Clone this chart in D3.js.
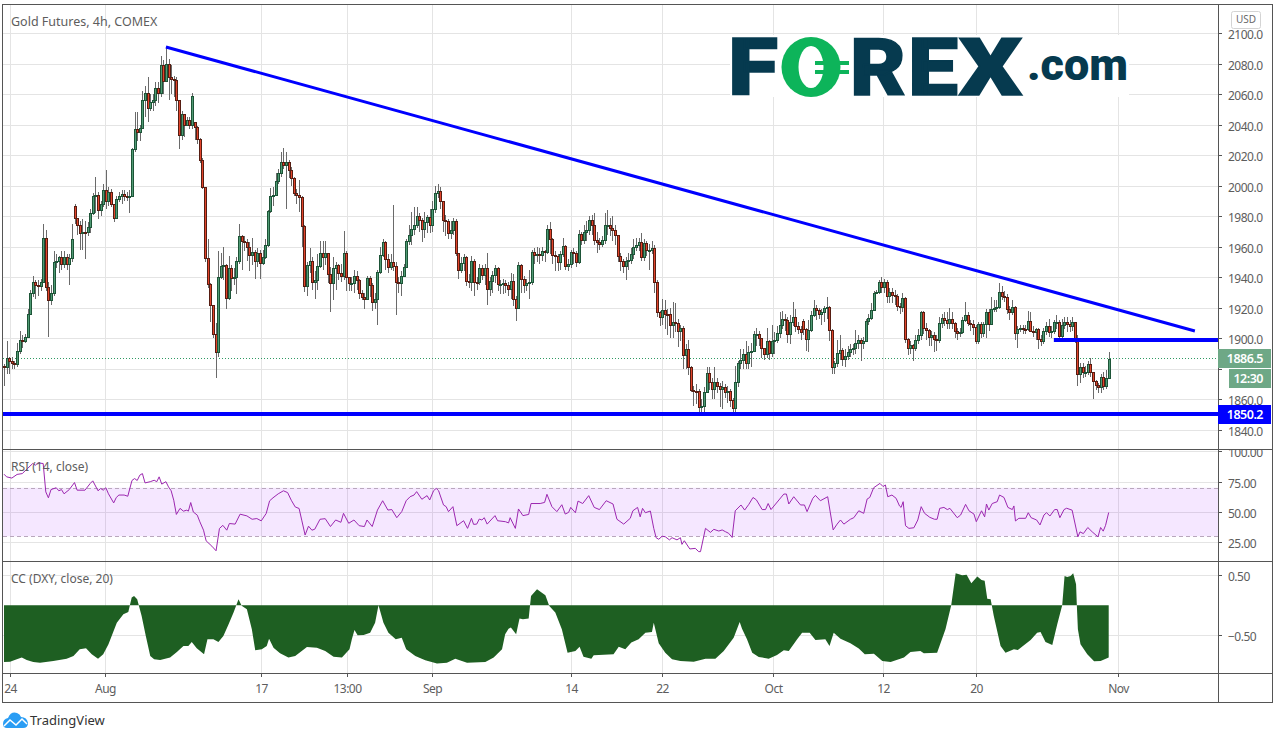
<!DOCTYPE html>
<html lang="en">
<head>
<meta charset="UTF-8">
<title>Gold Futures, 4h, COMEX</title>
<style>
  body { margin: 0; background: #fff; }
  svg { display: block; }
  text { font-family: "Noto Sans", sans-serif; }
  .axis text { font-size: 12px; fill: #5d5d5d; letter-spacing: -0.5px; }
  .axis line { stroke: #555; }
  .axis path { display: none; }
  .grid line { stroke: #e4e4e4; }
  .grid path { display: none; }
  .grid text { display: none; }
  .pane-title { font-size: 12px; fill: #5d5d5d; }
</style>
</head>
<body>
<svg width="1279" height="739"></svg>
<script src="https://d3js.org/d3.v7.min.js"></script>
<script>
// 4h candles. open is the previous close unless listed in gapAt
const closes = [
  1881,1887,1885,1884,1883,1892,1899,1898,1901,1916,
  1929.5,1937,1935,1934.5,1937,1965.7,1933.5,1925,1930,1950,
  1951,1953.5,1949,1953,1949,1952.5,1965,1979,1974,1969,
  1970,1969.5,1973,1982,1993,1994,1984,1988,1997.5,1990,
  1996,1988,1979,1991,1993.5,1994.5,1993.5,1993,1993.5,2024,
  2037,2035,2038,2055.8,2061,2051,2055,2056,2064,2061,
  2079,2068.4,2080,2071.3,2070,2069,2056,2033,2047,2040,
  2043,2039.5,2059,2038.5,2030.6,2017,1999,1952.5,1935.5,1922,
  1902.7,1891,1940,1947.7,1948,1926.3,1946,1939.5,1940,1951,
  1966.8,1963.7,1963,1959.8,1954.3,1956.5,1950.4,1956,1949.5,1953,
  1960.9,1983.6,1993,1994,2003,2008,2015.5,2013.5,2015.5,2010.5,
  2005,1995.3,1994,1992.6,1973.3,1934,1948,1951,1937,1938,
  1947.7,1955.8,1953,1955.8,1942,1936,1946,1948,1942.7,1941,
  1955.8,1939.9,1936,1936.4,1941,1938.3,1929.6,1927,1926,1939.4,
  1935,1924,1925.7,1943.4,1954.7,1963,1952,1947,1950,1947.7,
  1937.2,1936,1941,1947,1964,1968,1971.8,1974,1979.9,1977.3,
  1971.6,1976.2,1979.4,1974,1984.7,1995.2,1996.7,1989.7,1977.7,1976.6,
  1968.7,1971,1976.6,1955.8,1944.5,1949.3,1953.6,1937.7,1936.6,1950.4,
  1937.2,1936.8,1946,1941.2,1946,1932.2,1937.7,1941.2,1946,1935.5,
  1935.7,1936.2,1935,1932.2,1937.9,1925.9,1919.8,1948.2,1939,1935,
  1936,1936.8,1956.5,1954.3,1955.2,1954.3,1957.4,1956.5,1971.6,1965.2,
  1954.3,1953.9,1950,1955.2,1960.2,1947.5,1948.6,1956.9,1955.8,1950,
  1968.3,1964.6,1970,1971,1977.7,1974.4,1964.6,1963,1962,1964.6,
  1974,1974.5,1972.2,1971,1967.4,1953.9,1950.4,1947.7,1950.8,1951.5,
  1955,1959.8,1961.3,1962.8,1953.6,1962.4,1958,1958.2,1959.5,1937.2,
  1917.1,1914.3,1918.3,1916,1915.8,1908.9,1911,1910,1904.9,1907,
  1888.8,1893,1881.5,1866.3,1865.8,1865.6,1855.3,1855.5,1864.7,1877.2,
  1871.7,1867,1871.7,1869,1866.7,1868.4,1864.7,1865.6,1859.7,1854.7,
  1871.7,1883.7,1886,1890,1884.2,1891.4,1891.8,1902.7,1903,1900,
  1893.6,1889.9,1898,1890.3,1898,1899,1903.4,1908.9,1912.6,1912,
  1903,1911,1914,1908.4,1906,1904,1906.3,1899.7,1905.6,1915.4,
  1920,1918.7,1916,1917,1919.8,1920.4,1905.2,1881.5,1883.7,1890.3,
  1892.5,1886.4,1888.5,1891.4,1893,1893.6,1896.9,1899,1896.9,1898.6,
  1911.7,1913.2,1918.7,1929.6,1930.5,1936.6,1933.6,1936.6,1928,1930.3,
  1928.5,1927.5,1921.5,1920.5,1926.4,1899.5,1893.6,1895.5,1893.4,1899,
  1902,1917.2,1906.7,1905.6,1900.8,1902.3,1899.5,1899,1910,1913.2,
  1912,1910,1912.5,1910,1905.1,1903.4,1904.5,1912,1915.4,1910.4,
  1909.5,1907.3,1898.6,1909.3,1903.8,1909.3,1917.1,1909.3,1919.1,1919.8,
  1920.4,1930.3,1928,1927.4,1919,1917,1920.4,1903.4,1906,1906.5,
  1906.3,1906.2,1911.7,1905,1904.5,1906,1899.4,1898.5,1904.9,1907.8,
  1904.5,1905,1910.6,1911,1901.6,1908.8,1911,1909.5,1908.4,1910.6,
  1900,1876.7,1881.5,1877.8,1878,1883,1877.8,1872.3,1869.5,1868,
  1875,1869,1874.3,1886.5
];
const highs = [
  1883,1898,1888,1888,1885,1897,1905,1902,1903,1919,
  1932,1941,1938,1938,1939,1975,1971,1937,1935,1957,
  1955,1954,1957,1957,1955,1955,1975,1988,1979,1977,
  1978,1977,1976,1985,1995,2006,1996,1990,2001,2010,
  1999,1998,1988,1993,1996,1997,1997,1996,1997,2025,
  2048,2048,2040,2062,2065,2071,2060,2060,2068,2068,
  2085,2082,2090,2083,2079,2072,2071,2056,2049,2046,
  2045,2045,2061,2042,2039,2031,2018,1999,1965,1936,
  1922,1910,1957,1956,1960,1949,1954,1948,1946,1953,
  1975,1968,1967,1965,1963,1966,1958,1959,1958,1958,
  1965,1984,1998.5,1999,2008,2011,2022,2025,2022,2017,
  2012,2006,1998,2004,1993,1974,1950,1959,1953,1944,
  1955,1964,1964,1964,1956,1947,1953,1950,1949,1949,
  1970.5,1957,1940,1940,1945,1944,1939,1932,1930,1941,
  1941,1936,1930,1945,1960,1965,1964,1955,1955,1987.5,
  1950,1940,1944,1949,1965,1974,1983,1986,1986,1982,
  1979,1983,1981,1985,1990,2000,2001,1999,1990,1981,
  1978,1977,1979,1978,1956,1953,1955,1954,1942,1954,
  1952,1940,1949,1948,1949,1956,1940,1944,1948,1947,
  1938,1939,1938,1937,1943,1942,1928,1950,1949,1941,
  1939,1945,1958,1959,1960,1959,1960,1958,1974,1976,
  1966,1957,1955,1957,1966,1961,1952,1958,1959,1957,
  1971,1970,1974,1977,1980,1981,1982,1970,1966,1967,
  1982,1984,1979,1980,1974,1968,1956,1952,1953,1956,
  1959,1965,1966,1966,1969,1965,1964,1962,1964,1961,
  1938,1918,1926,1925,1919,1920,1923.7,1923,1913,1909,
  1908,1896,1899,1882,1869,1870,1867,1860,1868,1881,
  1881,1874,1881,1874,1871,1872,1870,1869,1867,1861,
  1882,1885,1893,1893,1898,1895,1897,1905,1907,1905,
  1900,1894,1907,1899,1909,1904,1908,1917,1918,1916,
  1914,1915,1924,1919,1911,1908,1913,1907,1912,1918,
  1925,1922,1920,1919,1921,1927,1921,1906,1885,1899,
  1902.5,1894,1893,1895,1896,1896,1905.6,1902,1900,1901,
  1913,1916,1923,1931,1932,1938,1940,1939,1938,1933,
  1933,1932,1929,1923,1930,1927,1900,1898,1896,1902,
  1906,1918,1918,1910,1906,1905,1904,1902,1914,1916,
  1917,1917,1920,1917,1911,1907,1907,1914,1924,1917,
  1912,1912,1909,1911,1911,1911,1919,1919,1927,1925,
  1925,1936,1934,1931,1929,1921,1925,1921,1908,1909,
  1909,1909,1918,1917,1908,1907,1907,1902,1907,1911,
  1913,1908,1912,1915,1912,1913,1914,1914,1912,1914,
  1911,1902,1884,1884,1882,1885,1887,1878,1873,1871,
  1877,1878,1879,1891
];
const lows = [
  1869,1877,1877,1880,1880,1881,1890,1894,1897,1900,
  1915,1927,1926,1928,1931,1936,1931,1900.7,1922,1928,
  1946,1943,1945,1946,1945,1935,1950,1975,1968,1958,
  1958,1952,1967,1969,1981,1982,1978,1980,1986,1985,
  1987,1986,1976,1978,1989,1988,1990,1990,1982,1993,
  2022,2029,2029,2037,2045,2042,2049,2049,2052,2054,
  2058,2060,2068,2056,2060,2058,2049,2024,2030,2032,
  2039,2037,2037,2030,2027,2015,1998,1950,1933,1911,
  1900,1874,1888,1939,1938,1919,1925,1931,1935,1929,
  1949,1945,1957,1951,1944,1948,1939,1947,1939,1948,
  1952,1960,1982,1987,1993,2001,2006,2011,1985,2005,
  2000,1993,1988,1983,1960,1930.5,1928,1943,1932,1926,
  1932,1946,1945,1948,1936,1917,1925,1932,1938,1937,
  1938,1931,1931,1931,1930,1932,1926,1925,1919,1926,
  1927,1918,1919,1909,1942,1953,1945,1943,1945,1944,
  1915,1930,1928,1940,1946,1961,1961,1968,1972,1970,
  1963,1966,1969,1969,1970,1982,1992,1985,1970,1967,
  1965,1965,1968,1954,1939,1943,1944,1934,1933,1931,
  1928,1932,1935,1938,1935,1922,1928,1930,1936,1931,
  1929,1929,1930,1928,1926,1921,1911.7,1919,1930,1930,
  1931,1926,1935,1949,1950,1949,1951,1950,1955,1955,
  1949,1944,1944,1945,1953,1945,1944,1946,1949,1947,
  1949,1961,1962,1964,1968,1968,1961,1956,1958,1960,
  1962,1968,1967,1964,1961,1950,1944,1943,1938,1945,
  1949,1952,1957,1957,1951,1951,1954,1945,1955,1930,
  1914,1908,1909,1906,1902,1900,1900,1904,1894.6,1898,
  1880,1880,1876,1865,1856,1857,1852,1852,1852,1864,
  1866,1860,1860,1864,1855,1854,1861,1858,1855,1851.5,
  1852,1868,1880,1880,1880,1880,1881,1891,1895,1895,
  1887,1886,1887,1886,1888,1890,1897,1900,1906,1905,
  1897,1896,1908,1904,1903,1899,1902,1892,1891,1904,
  1914,1912,1913,1909,1911,1913,1898,1877,1877,1881,
  1886,1882,1881,1886,1888,1889,1890,1893,1885,1893,
  1898,1909,1912,1918,1929,1929,1930,1930,1923,1923,
  1923,1922,1918,1916,1917,1897,1889,1890,1885,1892,
  1896,1899,1903,1899,1895,1895,1891,1892,1897,1907,
  1908,1906,1906,1906,1900,1899,1901,1903,1911,1908,
  1905,1902,1896,1896,1900,1901,1900,1905,1911,1917,
  1917,1919,1925,1924,1916,1912,1915,1899,1894,1904,
  1903,1903,1905,1904,1901,1899,1893,1895,1896,1902,
  1901,1900,1903,1906,1898,1900,1906,1904,1904,1905,
  1897,1868.8,1871,1874,1875,1876,1875,1860,1866,1864,
  1864,1866,1867,1874
];
const gapAt = [0, 27, 73, 306];
const gapOpens = [1882, 1987, 2041.5, 1911.5];

// RSI, read at these candle positions
const rsiAt = [
  0,1,3,5,7,9,11,12,13,15,16,17,18,20,21,22,23,25,27,28,31,33,34,36,37,38,39,40,42,43,
  44,46,47.4,49,50,51,52,53,54,56,57.5,58.5,59.4,60.4,62,63,64,65,66,67.4,68.7,70,70.6,71.5,72.5,74,75,76.4,77.4,79.6,
  81.2,82.5,83.8,85.3,86.3,88.5,90.4,93,95,96.8,98.5,100.4,101.7,103,105,107,108.6,110,111.5,113,114,115.3,116.6,117.9,119,121,123,125,127,129,
  130,132,134,136,138,139,141,143,145,147,148.5,150.4,152.3,154,155.5,157,158,160,162,163,164.5,165.5,166.4,168.3,169.3,170.2,171.9,173.4,176,177.5,
  179,179.8,181,182,183,183.9,185,188,189,192,193.2,193.8,195.8,197,198.7,200.9,201.8,205.3,207,207.9,209.8,211.7,213.6,214.9,216.2,217,218.8,219.8,221.6,223.9,
  226,228,230.6,233.2,234.7,237.3,239.8,240.8,242.6,243.6,244.5,245.6,247.5,248.8,249.7,250.7,252,253.2,254.8,255.8,257.7,259,259.6,260.5,262.6,264.7,266,266.7,268.6,270.5,
  271.8,273.7,275,276.2,277.5,278.8,280,282.2,283.6,285.2,286.8,288.1,290.3,291.6,292.6,293.7,298.6,299.6,300.5,302.4,305,306.5,307.5,309.7,310.7,312.6,315.4,317.5,319,320.3,
  321.6,324.1,325.4,327.3,329.2,330.5,331.5,333,335.4,336.6,337.5,338.4,340,341.6,342.9,343.5,344.3,345.2,346.5,348.4,349.9,351.2,352.5,354.5,356.3,357.3,358.3,359.9,361.2,362.2,
  365,366.3,368.2,369.5,371.4,372.3,374.3,375.5,376.2,377.1,378.4,380.3,381.2,382.9,384.4,386.1,386.7,387.3,388.6,391.2,392.2,393.3,395.4,396.7,398.2,399.2,400.5,402.3,403.3,404.3,
  405.9,406.9,409,411.2,412,413.3,415,416.7,418.9,419.9,420.9,421.8,423
];
const rsiValues = [
  81.2,79,78,81,81.7,85.9,90,88.6,90.5,90,66.6,61.7,68.5,70,67.5,68.5,65,68.5,74.3,68,68,73.5,75.7,67.5,69.4,68,70,65,57.5,62,
  64,64,63,76,77.6,76,80.4,81.7,74,75,76.2,75,79,73,75,70.7,67.5,59.7,48,53,50.7,51.5,50.7,57.8,50,47.4,41.9,35,26.2,21.8,
  18,36.4,39,35,40.5,40,48.2,46.8,44,44.6,42.7,48.8,59.2,61.7,65,67.5,66,59.7,54.2,52.9,43.3,31,38.3,35,35.8,44,44.5,38,43.4,41.5,
  48.9,40.7,43.4,38.7,38,43.4,38,51.6,59.3,51.6,52,45.3,50.3,59.3,62.6,64,66.8,60.5,63.5,59.9,67.6,69.5,67.6,55.8,54.4,50.3,54.4,38.7,42.8,36.5,
  44.8,39.8,40,44.2,43.4,45.3,40,47,42.8,42,41,45.3,36.5,52.5,47,48,57,57,57.9,64.6,54.4,50.3,56,48.3,49.7,53.8,49.4,59,57,63.5,
  53.8,52,59.3,56.6,44,40,44.8,51,53.8,46,53,49.4,50.8,36.5,28.8,27.5,30,29.6,27,28.8,27,28.8,23.3,26.3,19.5,20,17.3,17.3,36.5,33.2,
  35.7,34.3,35.2,33.8,32.4,29,51,55.8,51.6,56.3,62,60,52,52,57,52,64.8,64.8,56.6,62.6,55.8,55.8,50.3,61.3,63.7,59.3,62.6,35.2,40,43.4,
  40,44,45.3,51,48.9,60.7,62,70,73.6,71,72.3,62.6,64,61.3,55,53.8,58.5,38.7,36.5,37,43.4,54.4,48.9,45.6,44,44,53,53.8,52,53,
  45.3,47.5,56.3,51,48.3,42,51,46,56.6,51.6,57,58.5,64,62,53.8,52,55,42.6,44.8,44.8,49.4,45.3,43.4,39.3,47.5,49.4,46.7,52,52,45.3,
  52,53.1,51.5,29.5,33.6,32.2,37.2,33.6,29.5,37.2,34.2,39,49.6
];

// correlation coefficient with DXY, read at these candle positions
const ccAt = [
  0,2.3,4.9,6.8,8.7,11.2,13.8,18.9,24,26.6,29,31.4,33.6,36,38,40,43.2,45.7,47.6,48.9,49.8,51,52.7,54.3,56,57.5,59.8,63.6,66.2,68.7,
  70.6,71.9,73.8,76.6,77.9,80.2,82.1,84,86,87.9,89.8,91,93,94.9,96.2,98.7,100.6,101.5,103.2,105.7,108.9,111.5,
  116,119.8,123,126.2,129.4,132.3,133.2,134.2,135.4,137.7,140.2,142.1,143.4,145.3,147.2,150,152.3,154,157.5,161.3,165.8,169.6,172.8,177.3,184.3,187.5,
  190.7,191.9,193.2,194.1,196.1,197.4,198.7,200.9,201.8,204.1,207.3,208.8,211.1,213.6,215.8,218.8,220.4,221.9,224.9,225.8,233.4,235.4,237.9,240.2,243,245.6,248.1,248.8,250.7,253.2,255.8,259,
  264.1,268.6,272.4,275.6,279.4,281.7,282.6,284.5,286.5,289,292.8,296,298.6,300.5,303.7,305.6,308.5,310.7,314.5,316.1,317.7,320.3,324.1,327.3,329.6,333.1,336.3,339.5,344.6,347.1,
  350.9,352.2,357.3,360.5,362.7,364.4,366.9,368.6,370.4,372.7,374.3,375.5,376.5,377.8,379,381.6,383.5,386.7,388.2,393.1,395.6,396.9,398.8,401.4,403.3,405.2,
  406.1,407.1,408.4,409.4,410.5,410.8,411.2,412.2,414.8,417.4,419.9,423
];
const ccValues = [
  -0.944,-0.939,-0.9,-0.872,-0.911,-0.944,-0.956,-0.928,-0.889,-0.844,-0.733,-0.717,-0.817,-0.889,-0.817,-0.65,-0.289,-0.15,-0.111,0.128,0.156,0.1,-0.178,-0.511,-0.844,-0.9,-0.911,-0.872,-0.778,-0.678,
  -0.678,-0.611,-0.717,-0.817,-0.567,-0.567,-0.611,-0.511,-0.317,-0.122,0.1,-0.006,-0.067,-0.4,-0.75,-0.733,-0.678,-0.556,-0.706,-0.8,-0.872,-0.844,
  -0.694,-0.706,-0.761,-0.856,-0.872,-0.733,-0.567,-0.411,-0.5,-0.494,-0.456,-0.289,0,-0.289,-0.456,-0.567,-0.539,-0.733,-0.844,-0.917,-0.972,-0.956,-0.889,-0.956,-0.944,-0.872,
  -0.733,-0.483,-0.389,-0.372,-0.483,-0.222,-0.233,-0.222,0.156,0.267,0.167,-0.011,-0.122,-0.4,-0.789,-0.761,-0.689,-0.856,-0.889,-0.833,-0.817,-0.689,-0.733,-0.622,-0.567,-0.456,-0.444,-0.289,-0.633,-0.789,-0.9,-0.928,
  -0.939,-0.889,-0.889,-0.761,-0.539,-0.278,-0.389,-0.567,-0.789,-0.861,-0.889,-0.828,-0.75,-0.761,-0.567,-0.456,-0.456,-0.578,-0.567,-0.678,-0.456,-0.556,-0.633,-0.722,-0.817,-0.806,-0.928,-0.944,-0.872,-0.778,
  -0.761,-0.8,-0.789,-0.4,0,0.533,0.5,0.511,0.367,0.478,0.422,0.411,0.111,0.1,-0.178,-0.678,-0.789,-0.733,-0.744,-0.578,-0.456,-0.444,-0.611,-0.661,-0.317,0,
  0.489,0.472,0.489,0.533,0.35,0,-0.4,-0.65,-0.817,-0.933,-0.928,-0.872
];

const priceTicks = d3.range(1840, 2101, 20);
const rsiTicks = [25, 50, 75, 100];
const ccTicks = [-0.5, 0.5];
const timeTickAt = [2.4, 38.5, 98.3, 131.4, 164, 217, 252, 294.3, 336.4, 372, 426.4];
const timeTickLabels = ['24', 'Aug', '17', '13:00', 'Sep', '14', '22', 'Oct', '12', '20', 'Nov'];

// drawn lines: [candle position, price]
const trendLine = [[62, 2091], [456, 1905]];
const resistanceLine = [[402, 1899], [465, 1899]];
const lastPrice = 1886.5;
const supportPrice = 1850.2;

const plot = { left: 3, right: 1218, top: 4, bottom: 673, edge: 1272, foot: 702 };

const svg = d3.select('svg');

const x = d3.scaleLinear().domain([0, 423]).range([4, 1108.7]);
const xRound = x.copy().interpolate(d3.interpolateRound);
const y = d3.scaleLinear().domain([1840, 2100]).rangeRound([430, 33]);
const rsiY = d3.scaleLinear().domain([25, 75]).range([542.3, 481.7]);
const rsiYRound = rsiY.copy().interpolate(d3.interpolateRound);
const ccY = d3.scaleLinear().domain([-0.5, 0.5]).range([635.3, 575.3]);
const ccYRound = ccY.copy().interpolate(d3.interpolateRound);

// grid
svg.append('g').attr('class', 'grid')
  .attr('transform', `translate(0,${plot.bottom})`)
  .call(d3.axisBottom(xRound).tickValues(timeTickAt).tickFormat('').tickSize(-(plot.bottom - plot.top)));

[[y, priceTicks], [rsiYRound, rsiTicks], [ccYRound, ccTicks]].forEach(([scale, ticks]) => {
  svg.append('g').attr('class', 'grid')
    .attr('transform', `translate(${plot.left},0)`)
    .call(d3.axisLeft(scale).tickValues(ticks).tickFormat('').tickSize(-(plot.right - plot.left)));
});

// logo sits on a white patch over the grid
const logo = svg.append('g');
logo.append('rect').attr('x', 730).attr('y', 35).attr('width', 399).attr('height', 62).attr('fill', '#fff');
const logoLetters = [['F', 728, 50], ['R', 850, 56], ['E', 908, 50], ['X', 959, 63]];
logo.selectAll('text.big').data(logoLetters).join('text')
  .attr('class', 'big')
  .attr('x', d => d[1]).attr('y', 95)
  .attr('textLength', d => d[2]).attr('lengthAdjust', 'spacingAndGlyphs')
  .attr('fill', '#063a4f').attr('stroke', '#063a4f').attr('stroke-width', 1.5)
  .style('font-family', 'Roboto').style('font-weight', 900).style('font-size', '80px')
  .text(d => d[0]);
logo.append('text').attr('x', 1027).attr('y', 80)
  .attr('textLength', 101).attr('lengthAdjust', 'spacingAndGlyphs')
  .attr('fill', '#063a4f')
  .style('font-family', 'Roboto').style('font-weight', 900).style('font-size', '44px')
  .text('.com');
logo.append('ellipse').attr('cx', 811).attr('cy', 67).attr('rx', 29.5).attr('ry', 30).attr('fill', '#0db45a');
logo.append('ellipse').attr('cx', 811).attr('cy', 67).attr('rx', 12.5).attr('ry', 21).attr('fill', '#fff');
logo.append('rect').attr('x', 815).attr('y', 61).attr('width', 34).attr('height', 4).attr('fill', '#0db45a');
logo.append('rect').attr('x', 815).attr('y', 70).attr('width', 34).attr('height', 4).attr('fill', '#0db45a');

// RSI band
svg.append('rect')
  .attr('x', plot.left).attr('width', plot.right - plot.left)
  .attr('y', rsiY(70)).attr('height', rsiY(30) - rsiY(70))
  .attr('fill', '#9915ff').attr('opacity', 0.1);
[70, 30].forEach(level => {
  svg.append('line')
    .attr('x1', plot.left).attr('x2', plot.right)
    .attr('y1', Math.round(rsiY(level)) + 0.5).attr('y2', Math.round(rsiY(level)) + 0.5)
    .attr('stroke', '#b9a7bd').attr('stroke-dasharray', '4 3');
});

// candles
const candles = d3.range(closes.length).map(i => {
  const gap = gapAt.indexOf(i);
  return { i, open: gap >= 0 ? gapOpens[gap] : closes[i - 1], close: closes[i], high: highs[i], low: lows[i] };
});

svg.append('line')
  .attr('x1', plot.left).attr('x2', plot.right)
  .attr('y1', y(lastPrice) - 0.5).attr('y2', y(lastPrice) - 0.5)
  .attr('stroke', '#2f9a63').attr('stroke-dasharray', '1 2');

const wicks = svg.append('g').attr('stroke', '#6a6a6a');
wicks.selectAll('line').data(candles).join('line')
  .attr('x1', d => xRound(d.i) + 0.5).attr('x2', d => xRound(d.i) + 0.5)
  .attr('y1', d => y(d.high)).attr('y2', d => y(d.low));

const bodies = svg.append('g');
bodies.selectAll('rect').data(candles).join('rect')
  .attr('x', d => xRound(d.i) - 0.5)
  .attr('width', 2)
  .attr('y', d => Math.min(y(d.open), y(d.close)) + 0.5)
  .attr('height', d => Math.max(Math.abs(y(d.open) - y(d.close)), 1))
  .attr('fill', d => d.close >= d.open ? '#4f9a74' : '#e2442b')
  .attr('stroke', d => d.close >= d.open ? '#1d5437' : '#561d12');

// RSI line and correlation area
const rsiPoints = rsiAt.map((at, i) => [at, rsiValues[i]]);
svg.append('path')
  .attr('d', d3.line().x(d => x(d[0])).y(d => rsiY(d[1]))(rsiPoints))
  .attr('fill', 'none').attr('stroke', '#9c27b0').attr('stroke-width', 1);

const ccPoints = ccAt.map((at, i) => [at, ccValues[i]]);
svg.append('path')
  .attr('d', d3.area().x(d => x(d[0])).y0(ccY(0)).y1(d => ccY(d[1]))(ccPoints))
  .attr('fill', '#1e5f22');

// blue drawings
const priceLine = d3.line().x(d => x(d[0])).y(d => y(d[1]));
svg.append('path').attr('d', priceLine(trendLine))
  .attr('fill', 'none').attr('stroke', '#0000ff').attr('stroke-width', 3);
svg.append('path').attr('d', priceLine(resistanceLine))
  .attr('fill', 'none').attr('stroke', '#0000ff').attr('stroke-width', 4);
svg.append('line')
  .attr('x1', plot.left).attr('x2', plot.right)
  .attr('y1', y(supportPrice)).attr('y2', y(supportPrice))
  .attr('stroke', '#0000ff').attr('stroke-width', 4);

// pane titles
[['Gold Futures, 4h, COMEX', 26, 12.5], ['RSI (14, close)', 471, 12], ['CC (DXY, close, 20)', 583, 12]].forEach(([label, py, size]) => {
  svg.append('text').attr('class', 'pane-title').attr('x', 11).attr('y', py).style('font-size', size + 'px').text(label);
});

// frame and pane separators
const frame = svg.append('g').attr('stroke', '#555').attr('fill', 'none');
frame.append('rect').attr('x', 2.5).attr('y', 4.5).attr('width', plot.edge - 2).attr('height', plot.foot - 4);
frame.append('line').attr('x1', plot.right + 0.5).attr('x2', plot.right + 0.5).attr('y1', 4).attr('y2', plot.foot);
[449, 561, plot.bottom].forEach(py => {
  frame.append('line').attr('x1', 2).attr('x2', plot.edge).attr('y1', py + 0.5).attr('y2', py + 0.5);
});

// axes
svg.append('defs').append('clipPath').attr('id', 'rsi-clip')
  .append('rect').attr('x', plot.right).attr('y', 450).attr('width', 60).attr('height', 111);

// 1880 sits behind the price tags, so it has no label
const priceAxis = svg.append('g').attr('class', 'axis')
  .attr('transform', `translate(${plot.right},0)`)
  .call(d3.axisRight(y).tickValues(priceTicks).tickFormat(d => d === 1880 ? '' : d3.format('.1f')(d)).tickSize(4).tickPadding(6));
const rsiAxis = svg.append('g').attr('clip-path', 'url(#rsi-clip)')
  .append('g').attr('class', 'axis')
  .attr('transform', `translate(${plot.right},0)`)
  .call(d3.axisRight(rsiYRound).tickValues(rsiTicks).tickFormat(d3.format('.2f')).tickSize(4).tickPadding(6));
const ccAxis = svg.append('g').attr('class', 'axis')
  .attr('transform', `translate(${plot.right},0)`)
  .call(d3.axisRight(ccYRound).tickValues(ccTicks).tickFormat(d3.format('.2f')).tickSize(4).tickPadding(6));
[priceAxis, rsiAxis, ccAxis].forEach(axis => axis.selectAll('text').attr('dy', '0.42em'));
svg.append('g').attr('class', 'axis')
  .attr('transform', `translate(0,${plot.bottom})`)
  .call(d3.axisBottom(xRound).tickValues(timeTickAt).tickFormat((d, i) => timeTickLabels[i]).tickSize(4).tickPadding(7));

// price labels on the axis
const tagBoxes = [
  { label: d3.format('.1f')(lastPrice), box: [plot.right, 349, 53, 19], fill: '#6ea886' },
  { label: '12:30', box: [1229, 369, 42, 19], fill: '#6ea886' },
  { label: d3.format('.1f')(supportPrice), box: [plot.right, 405, 53, 19], fill: '#0000ff' }
];
tagBoxes.forEach(({ label, box, fill }) => {
  svg.append('rect').attr('x', box[0]).attr('y', box[1]).attr('width', box[2]).attr('height', box[3]).attr('fill', fill);
  svg.append('text')
    .attr('x', 1263).attr('y', box[1] + 14)
    .attr('text-anchor', 'end').attr('fill', '#fff')
    .style('font-size', '12.5px').style('font-weight', 600).style('letter-spacing', '-0.5px')
    .text(label);
});

// currency button
svg.append('rect').attr('x', 1231.5).attr('y', 11.5).attr('width', 29).attr('height', 17).attr('rx', 2)
  .attr('fill', '#fff').attr('stroke', '#d4d4d4');
svg.append('text').attr('x', 1246).attr('y', 23).attr('text-anchor', 'middle')
  .attr('fill', '#6a6a6a').style('font-size', '10px').text('USD');

// TradingView mark
const mark = svg.append('g');
mark.append('path')
  .attr('d', 'M3 724 Q3 719 8 718 Q11 711 17 713 Q20 714 21 717 Q27 717 28 723 Q28 728 23 728 L7 728 Q3 728 3 724 Z')
  .attr('fill', '#2a9df4');
mark.append('path').attr('d', 'M4 726 L10 720 L16 725 L22 719 L27 724')
  .attr('fill', 'none').attr('stroke', '#fff').attr('stroke-width', 1.5);
mark.append('text').attr('x', 30).attr('y', 725).attr('fill', '#333').style('font-size', '13px').text('TradingView');
</script>
</body>
</html>
